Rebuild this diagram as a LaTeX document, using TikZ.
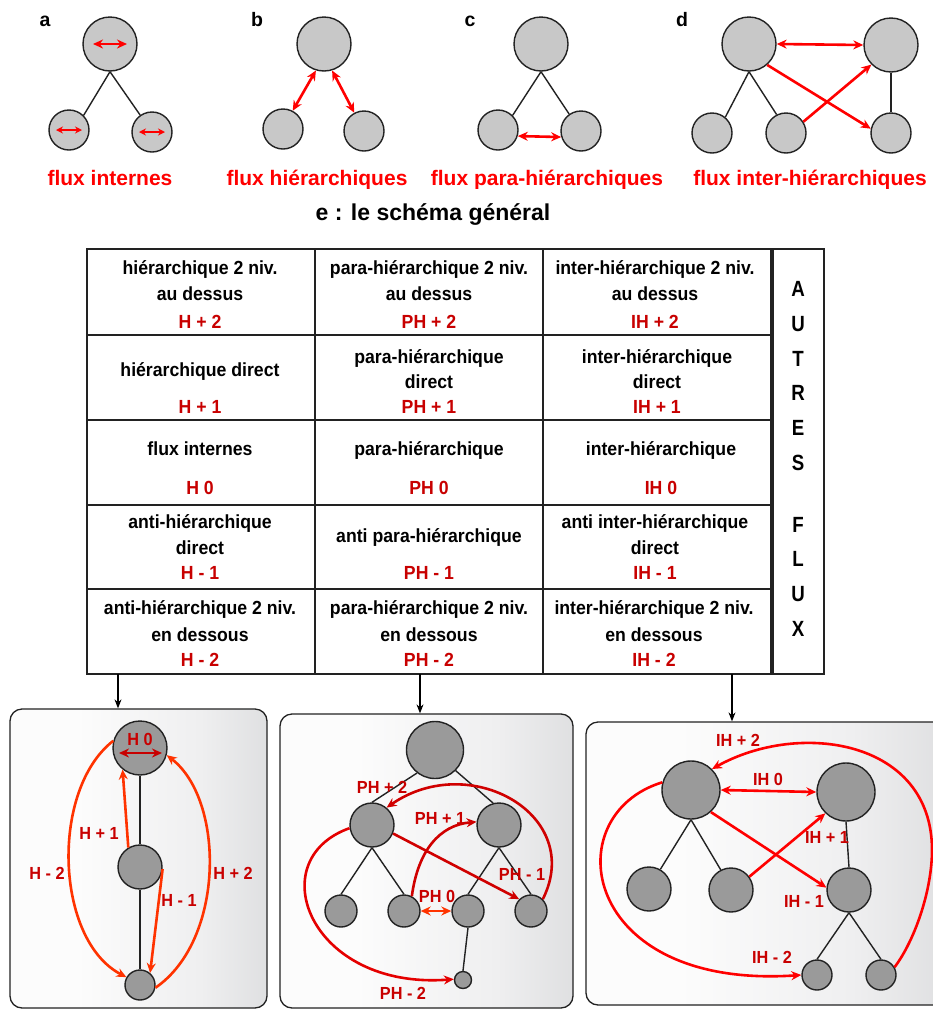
\documentclass[tikz,border=0pt]{standalone}
\usepackage{fontspec}
\setmainfont{Liberation Sans}
\newfontfamily\condf[FakeStretch=0.93]{Liberation Sans}
\newfontfamily\narf[FakeStretch=0.85]{Liberation Sans}
\usetikzlibrary{arrows.meta,calc,shadings}
\definecolor{lightc}{HTML}{C8C8C8}
\definecolor{darkc}{HTML}{9A9A9A}
\definecolor{tred}{HTML}{C80000}
\definecolor{bred}{HTML}{FF0000}
\definecolor{ored}{HTML}{FF3300}
\definecolor{mred}{HTML}{D00000}
\definecolor{linec}{HTML}{222222}
\definecolor{shA}{HTML}{FCFCFC}
\definecolor{shB}{HTML}{EFEFF0}
\definecolor{shC}{HTML}{D2D3D5}
\definecolor{shD}{HTML}{9EA0A3}
\pgfdeclarehorizontalshading{panelshade}{100bp}{color(0bp)=(shA); color(38bp)=(shA); color(62bp)=(shB); color(86bp)=(shC); color(100bp)=(shD)}
\begin{document}
\begin{tikzpicture}[x=1pt,y=-1pt,
  circ/.style={circle,draw=linec,line width=1.4pt,inner sep=0pt,minimum size=#1},
  lcirc/.style={circ=#1,fill=lightc},
  dcirc/.style={circ=#1,fill=darkc},
  tree/.style={draw=linec,line width=1.4pt},
  tline/.style={draw=linec,line width=1.3pt},
  rarr/.style={draw=#1,line width=2.6pt,-{Stealth[length=10pt,width=9pt]}},
  rarrd/.style={draw=#1,line width=2.6pt,{Stealth[length=10pt,width=9pt]}-{Stealth[length=10pt,width=9pt]}},
  rarrs/.style={draw=#1,line width=2.4pt,{Stealth[length=7pt,width=7pt]}-{Stealth[length=7pt,width=7pt]}},
  darr/.style={draw=black,line width=1.1pt,-{Stealth[length=9pt,width=7pt]}},
  letter/.style={font=\bfseries\fontsize{19.5}{21}\selectfont,inner sep=0pt,text height=13.5pt,text depth=0pt},
  toplab/.style={font=\bfseries\fontsize{21}{24}\selectfont,text=bred,inner sep=0pt,text height=15pt,text depth=0pt},
  cellt/.style={font=\condf\bfseries\fontsize{19}{21}\selectfont,inner sep=0pt,text height=13.5pt,text depth=0pt},
  cellr/.style={cellt,text=tred},
  plab/.style={font=\condf\bfseries\fontsize{17.5}{19}\selectfont,text=tred,inner sep=0pt,text height=12.5pt,text depth=0pt},
  panel/.style={draw=linec,line width=1.3pt,rounded corners=12pt,shade,shading=panelshade,inner sep=0pt}]
\useasboundingbox (0,0) rectangle (933,1010);
\fill[white] (0,0) rectangle (933,1010);

% ---------- top row ----------
\node[letter] (labA) at (45,20) {a};
\node[letter] (labB) at (257,20) {b};
\node[letter] (labC) at (470,20) {c};
\node[letter] (labD) at (682,20) {d};

% a
\node[lcirc=54pt] (a1) at (110,44) {};
\node[lcirc=40pt] (a2) at (69,130) {};
\node[lcirc=40pt] (a3) at (152,132) {};
\draw[tree] (a1.south) -- (a2.45);
\draw[tree] (a1.south) -- (a3.125);
\draw[rarrd=bred] ([xshift=-17pt]a1.center) -- ([xshift=17pt]a1.center);
\draw[rarrs=bred] ([xshift=-13pt]a2.center) -- ([xshift=13pt]a2.center);
\draw[rarrs=bred] ([xshift=-13pt]a3.center) -- ([xshift=13pt]a3.center);

% b
\node[lcirc=54pt] (b1) at (324,44) {};
\node[lcirc=40pt] (b2) at (283,129) {};
\node[lcirc=40pt] (b3) at (364,131) {};
\draw[rarrd=bred] (b2.62) -- (b1.253);
\draw[rarrd=bred] (b1.287) -- (b3.118);

% c
\node[lcirc=54pt] (c1) at (541,44) {};
\node[lcirc=40pt] (c2) at (498,130) {};
\node[lcirc=40pt] (c3) at (581,131) {};
\draw[tree] (c1.south) -- (c2.45);
\draw[tree] (c1.south) -- (c3.125);
\draw[rarrd=bred] (c2.-17) -- (c3.197);

% d
\node[lcirc=54pt] (d1) at (749,44) {};
\node[lcirc=54pt] (d2) at (891,45) {};
\node[lcirc=40pt] (d3) at (712,133) {};
\node[lcirc=40pt] (d4) at (786,133) {};
\node[lcirc=40pt] (d5) at (891,133) {};
\draw[tree] (d1.south) -- (d3.50);
\draw[tree] (d1.south) -- (d4.117);
\draw[tree] (d2.south) -- (d5.north);
\draw[rarrd=bred] (d1.east) -- (d2.west);
\draw[rarr=bred] (d1.-49) -- (d5.168);
\draw[rarr=bred] (d4.33) -- (d2.225);

% captions (cut at the bottom as in the original)
\begin{scope}
\clip (0,155) rectangle (933,188);
\node[toplab] (fa) at (110,178) {flux internes};
\node[toplab] (fb) at (317,178) {flux hiérarchiques};
\node[toplab] (fc) at (547,178) {flux para-hiérarchiques};
\node[toplab] (fd) at (810,178) {flux inter-hiérarchiques};
\end{scope}

% ---------- title ----------
\node[font=\bfseries\fontsize{23}{25}\selectfont,inner sep=0pt,text height=16.5pt,text depth=0pt] (title) at (433,212) {e : le schéma général};

% ---------- table ----------
\draw[tline] (87,249) rectangle (771,674);
\draw[tline] (771,249) rectangle (824,674);
\draw[tline] (773,249) -- (773,674);
\foreach \yy in {335,420,505,589} \draw[tline] (87,\yy) -- (771,\yy);
\foreach \xx in {315,543} \draw[tline] (\xx,249) -- (\xx,674);

% row 1
\node[cellt] (r1c1a) at (200,268) {hiérarchique 2 niv.};
\node[cellt] (r1c1b) at (200,294) {au dessus};
\node[cellr] (r1c1c) at (200,322) {H + 2};
\node[cellt] (r1c2a) at (429,268) {para-hiérarchique 2 niv.};
\node[cellt] (r1c2b) at (429,294) {au dessus};
\node[cellr] (r1c2c) at (429,322) {PH + 2};
\node[cellt] (r1c3a) at (655,268) {inter-hiérarchique 2 niv.};
\node[cellt] (r1c3b) at (655,294) {au dessus};
\node[cellr] (r1c3c) at (655,322) {IH + 2};
% row 2
\node[cellt] (r2c1a) at (200,370) {hiérarchique direct};
\node[cellr] (r2c1c) at (200,407) {H + 1};
\node[cellt] (r2c2a) at (429,357) {para-hiérarchique};
\node[cellt] (r2c2b) at (429,382) {direct};
\node[cellr] (r2c2c) at (429,407) {PH + 1};
\node[cellt] (r2c3a) at (657,357) {inter-hiérarchique};
\node[cellt] (r2c3b) at (657,382) {direct};
\node[cellr] (r2c3c) at (657,407) {IH + 1};
% row 3
\node[cellt] (r3c1a) at (200,449) {flux internes};
\node[cellr] (r3c1c) at (200,488) {H 0};
\node[cellt] (r3c2a) at (429,449) {para-hiérarchique};
\node[cellr] (r3c2c) at (429,488) {PH 0};
\node[cellt] (r3c3a) at (661,449) {inter-hiérarchique};
\node[cellr] (r3c3c) at (661,488) {IH 0};
% row 4
\node[cellt] (r4c1a) at (200,522) {anti-hiérarchique};
\node[cellt] (r4c1b) at (200,548) {direct};
\node[cellr] (r4c1c) at (200,573) {H - 1};
\node[cellt] (r4c2a) at (429,536) {anti para-hiérarchique};
\node[cellr] (r4c2c) at (429,573) {PH - 1};
\node[cellt] (r4c3a) at (655,522) {anti inter-hiérarchique};
\node[cellt] (r4c3b) at (655,548) {direct};
\node[cellr] (r4c3c) at (655,573) {IH - 1};
% row 5
\node[cellt] (r5c1a) at (200,608) {anti-hiérarchique 2 niv.};
\node[cellt] (r5c1b) at (200,635) {en dessous};
\node[cellr] (r5c1c) at (200,660) {H - 2};
\node[cellt] (r5c2a) at (429,608) {para-hiérarchique 2 niv.};
\node[cellt] (r5c2b) at (429,635) {en dessous};
\node[cellr] (r5c2c) at (429,660) {PH - 2};
\node[cellt] (r5c3a) at (654,608) {inter-hiérarchique 2 niv.};
\node[cellt] (r5c3b) at (654,635) {en dessous};
\node[cellr] (r5c3c) at (654,660) {IH - 2};

\node[font=\narf\bfseries\fontsize{22}{34.7}\selectfont,align=center,inner sep=0pt] (autres) at (798,459)
  {A\\U\\T\\R\\E\\S\\[27.3pt]F\\L\\U\\X};

% ---------- panels ----------
\node[panel,minimum width=257pt,minimum height=299pt] (p1) at (138.5,858.5) {};
\node[panel,minimum width=293pt,minimum height=294pt] (p2) at (426.5,861) {};
\node[panel,minimum width=359pt,minimum height=283pt] (p3) at (765.5,863.5) {};

\coordinate (e1) at (118,674);
\coordinate (e2) at (420,674);
\coordinate (e3) at (732,674);
\draw[darr] (e1) -- (e1 |- p1.north);
\draw[darr] (e2) -- (e2 |- p2.north);
\draw[darr] (e3) -- (e3 |- p3.north);

% panel 1
\node[dcirc=54pt] (h1) at (140,748) {};
\node[dcirc=44pt] (h2) at (140,867) {};
\node[dcirc=30pt] (h3) at (140,985) {};
\draw[tree] (h1.south) -- (h2.north);
\draw[tree] (h2.south) -- (h3.north);
\draw[rarrd=tred,line width=2.3pt] ([xshift=-21pt,yshift=-5pt]h1.center) -- ([xshift=22pt,yshift=-5pt]h1.center);
\node[plab] (lh0) at (140,739) {H 0};
\draw[rarr=ored] (h2.121) -- (h1.231);
\draw[rarr=ored] (h2.-5) -- (h3.50);
\draw[rarr=ored] (h1.165) .. controls (50,790) and (55,940) .. (h3.150);
\draw[rarr=ored] (h3.-10) .. controls (225,940) and (225,800) .. (h1.-15);
\node[plab] (lh1) at (99,833) {H + 1};
\node[plab] (lhm2) at (47,873) {H - 2};
\node[plab] (lhm1) at (179,900) {H - 1};
\node[plab] (lh2) at (233,873) {H + 2};

% panel 2
\node[dcirc=57pt] (g1) at (435,750) {};
\node[dcirc=44pt] (g2) at (372,825) {};
\node[dcirc=44pt] (g3) at (499,825) {};
\node[dcirc=32pt] (g4) at (341,911) {};
\node[dcirc=32pt] (g5) at (404,911) {};
\node[dcirc=32pt] (g6) at (468,911) {};
\node[dcirc=32pt] (g7) at (531,911) {};
\node[dcirc=17pt] (g8) at (463,980) {};
\draw[tree] (g1.232) -- (g2.north);
\draw[tree] (g1.-45) -- (g3.105);
\draw[tree] (g2.south) -- (g4.north);
\draw[tree] (g2.south) -- (g5.north);
\draw[tree] (g3.south) -- (g6.north);
\draw[tree] (g3.south) -- (g7.north);
\draw[tree] (g6.south) -- (g8.north);
\draw[rarrd=ored,line width=2.3pt] (g5.east) -- (g6.west);
\draw[rarr=mred] (g5.62) .. controls (418,850) and (440,825) .. (g3.172);
\draw[rarr=mred] (g2.-22) -- (g7.135);
\draw[rarr=mred] (g7.45) .. controls (585,815) and (470,750) .. (g2.50);
\draw[rarr=red!90!black] (g2.188) .. controls (260,860) and (310,990) .. (g8.175);
\node[plab] (lp0) at (437,896) {PH 0};
\node[plab] (lp1) at (440,818) {PH + 1};
\node[plab] (lpm1) at (522,874) {PH - 1};
\node[plab] (lp2) at (382,787) {PH + 2};
\node[plab] (lpm2) at (403,993) {PH - 2};

% panel 3
\node[dcirc=58pt] (q1) at (691,790) {};
\node[dcirc=58pt] (q2) at (846,792) {};
\node[dcirc=44pt] (q3) at (649,889) {};
\node[dcirc=44pt] (q4) at (731,890) {};
\node[dcirc=44pt] (q5) at (849,890) {};
\node[dcirc=30pt] (q6) at (817,975) {};
\node[dcirc=30pt] (q7) at (881,975) {};
\draw[tree] (q1.south) -- (q3.60);
\draw[tree] (q1.south) -- (q4.117);
\draw[tree] (q2.south) -- (q5.north);
\draw[tree] (q5.south) -- (q6.north);
\draw[tree] (q5.south) -- (q7.north);
\draw[rarrd=bred] (q1.east) -- (q2.west);
\draw[rarr=bred] (q4.36) -- (q2.226);
\draw[rarr=bred] (q1.-48) -- (q5.174);
\draw[rarr=bred] (q7.30) .. controls (915,940) and (932,890) .. (932,850)
   .. controls (932,740) and (800,720) .. (q1.45);
\draw[rarr=bred] (q1.165) .. controls (555,815) and (580,990) .. (q6.180);
\node[plab] (li0) at (768,779) {IH 0};
\node[plab] (li1) at (827,837) {IH + 1};
\node[plab] (lim1) at (804,901) {IH - 1};
\node[plab] (li2) at (738,740) {IH + 2};
\node[plab] (lim2) at (772,957) {IH - 2};
\end{tikzpicture}
\end{document}
